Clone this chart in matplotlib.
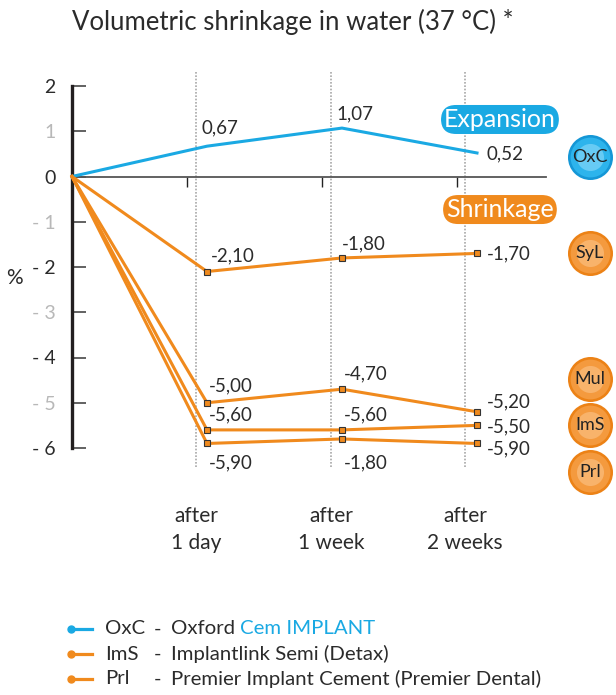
import matplotlib.pyplot as plt
import numpy as np

plt.rcParams['font.family'] = ['Lato', 'DejaVu Sans']

# data
steps = [0, 1, 2, 3]
categories = ["after\n1 day", "after\n1 week", "after\n2 weeks"]
oxc = [0, 0.67, 1.07, 0.52]
syl = [0, -2.10, -1.80, -1.70]
mul = [0, -5.00, -4.70, -5.20]
ims = [0, -5.60, -5.60, -5.50]
prl = [0, -5.90, -5.80, -5.90]
# printed labels (as in the original, incl. the "-1,80" under PrI)
oxc_lab = ["0,67", "1,07", "0,52"]
syl_lab = ["-2,10", "-1,80", "-1,70"]
mul_lab = ["-5,00", "-4,70", "-5,20"]
ims_lab = ["-5,60", "-5,60", "-5,50"]
prl_lab = ["-5,90", "-1,80", "-5,90"]
yticks = [2, 1, 0, -1, -2, -3, -4, -5, -6]
ytick_labels = ["2", "1", "0", "- 1", "- 2", "- 3", "- 4", "- 5", "- 6"]

BLUE = "#1aa9e3"
ORANGE = "#f08a1d"
DARK = "#2b2b2b"

fig = plt.figure(figsize=(6.16, 6.95), dpi=100)
ax = fig.add_axes([72/616, 247/695, 474/616, 362/695])
ax.set_xlim(0, 474/135)
ax.set_ylim(-6, 2)

for s in ["top", "right"]:
    ax.spines[s].set_visible(False)
ax.spines["left"].set_linewidth(2.4)
ax.spines["left"].set_color("#231f20")
ax.spines["bottom"].set_position(("data", 0))
ax.spines["bottom"].set_color("#555555")
ax.spines["bottom"].set_linewidth(1.3)

ax.set_yticks(yticks)
ax.set_yticklabels(ytick_labels, fontsize=14)
for lab, v in zip(ax.get_yticklabels(), yticks):
    lab.set_color(DARK if v % 2 == 0 else "#b8b8b8")
ax.tick_params(axis="y", direction="in", length=10, width=1.3, color="#555555", pad=12)
ax.set_xticks([0.855, 1.855, 2.855])
ax.set_xticklabels([])
ax.tick_params(axis="x", direction="out", length=7, width=1.0, color="#222222")

# dotted guides
grid_x = [0.918, 1.918, 2.91]
ax.vlines(grid_x, -6.42, 2.3, colors="#a8a8a8", linestyles=(0, (1, 1)), linewidth=1.2, clip_on=False, zorder=1)

# series
ax.plot(steps, oxc, color=BLUE, lw=2.2, zorder=3, clip_on=False)
for ys in [syl, mul, ims, prl]:
    ax.plot(steps, ys, color=ORANGE, lw=2.2, zorder=3, clip_on=False,
            marker="s", markevery=[1, 2, 3], markersize=4,
            markerfacecolor=ORANGE, markeredgecolor="#333333", markeredgewidth=0.8)

# value labels (offsets in points)
def put(vals, labs, offs):
    for x, y, t, (dx, dy) in zip(steps[1:], vals[1:], labs, offs):
        ax.annotate(t, (x, y), xytext=(dx, dy), textcoords="offset points",
                    ha="left", va="center", fontsize=13.5, color=DARK,
                    annotation_clip=False, zorder=5)

put(oxc, oxc_lab, [(-4, 13), (-4, 10), (7, -1)])
put(syl, syl_lab, [(3, 11), (0, 10), (7, 0)])
put(mul, mul_lab, [(1, 12), (1, 11), (7, 7)])
put(ims, ims_lab, [(1, 11), (1, 11), (7, -1)])
put(prl, prl_lab, [(1, -14), (1, -17), (7, -4)])

# category labels
for x, c in zip(grid_x, categories):
    ax.text(x, -7.80, c, ha="center", va="center", fontsize=15, color=DARK,
            linespacing=1.4, clip_on=False)

# Expansion / Shrinkage tags
ax.text(3.17, 1.26, "Expansion", ha="center", va="center", fontsize=18, color="white",
        bbox=dict(boxstyle="round,pad=0.12,rounding_size=0.6", fc=BLUE, ec="none"), clip_on=False)
ax.text(3.17, -0.73, "Shrinkage", ha="center", va="center", fontsize=18, color="white",
        bbox=dict(boxstyle="round,pad=0.12,rounding_size=0.6", fc=ORANGE, ec="none"), clip_on=False)

# round badges on the right
badge_names = ["OxC", "SyL", "Mul", "ImS", "Prl"]
badge_y = [0.42, -1.70, -4.47, -5.49, -6.53]
badge_fill = [("#1597d6", "#2db4ec", "#8fdcfa"), ("#ec8216", "#f49a3e", "#fbc48a"),
              ("#ec8216", "#f49a3e", "#fbc48a"), ("#ec8216", "#f49a3e", "#fbc48a"),
              ("#ec8216", "#f49a3e", "#fbc48a")]
bx = 3.837
for name, by, (c1, c2, c3) in zip(badge_names, badge_y, badge_fill):
    ax.scatter([bx], [by], s=1050, color=c1, zorder=6, clip_on=False, linewidths=0)
    ax.scatter([bx], [by], s=820, color=c2, zorder=6, clip_on=False, linewidths=0)
    ax.scatter([bx], [by], s=380, color=c3, zorder=6, clip_on=False, linewidths=0, alpha=0.6)
    ax.text(bx, by, name, ha="center", va="center", fontsize=13, color="#222222", zorder=7)

# title and axis label
fig.text(72/616, 1 - 22/695, "Volumetric shrinkage in water (37 °C) *", fontsize=18.5,
         color=DARK, ha="left", va="center")
fig.text(6/616, 1 - 278/695, "%", fontsize=15, color=DARK, ha="left", va="center")

# legend
leg_rows = [("OxC", "Oxford ", "Cem IMPLANT", BLUE),
            ("ImS", "Implantlink Semi (Detax)", "", ORANGE),
            ("Prl", "Premier Implant Cement (Premier Dental)", "", ORANGE)]
leg_y = [629, 654, 679]
for (code, desc, extra, col), yy in zip(leg_rows, leg_y):
    fy = 1 - yy/695
    fig.add_artist(plt.Line2D([71/616, 92/616], [fy, fy], color=col, lw=2.3))
    fig.add_artist(plt.Line2D([71/616], [fy], color=col, marker="o", markersize=5))
    fig.text(105/616, fy, code, fontsize=14.7, color=DARK, ha="left", va="center")
    fig.text(154/616, fy, "-", fontsize=14.7, color=DARK, ha="left", va="center")
    t = fig.text(171/616, fy, desc, fontsize=14.7, color=DARK, ha="left", va="center")
    if extra:
        ax.annotate(extra, xy=(1, 0.5), xycoords=t, ha="left", va="center",
                    fontsize=14.7, color=BLUE, annotation_clip=False)

fig.savefig("out.png", dpi=100)
